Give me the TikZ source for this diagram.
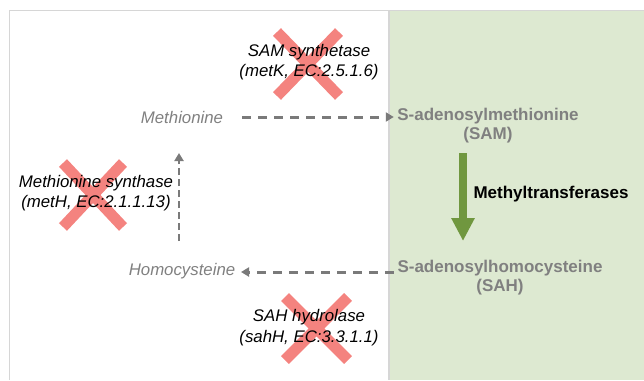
\documentclass[tikz,border=0pt]{standalone}
\usepackage{fontspec}
\setmainfont{Liberation Sans}
\usetikzlibrary{arrows.meta}
\definecolor{txtgray}{HTML}{808080}
\definecolor{lngray}{HTML}{7A7A7A}
\definecolor{framegray}{HTML}{D6D6D6}
\definecolor{greenbg}{HTML}{DDE9D1}
\definecolor{greenarrow}{HTML}{70973F}
\definecolor{crossred}{HTML}{F4837F}
\begin{document}
\begin{tikzpicture}[x=1pt,y=-1pt,
  enzyme/.style={font=\fontsize{16.8}{20.5}\selectfont\itshape, align=center, text=black},
  metab/.style={font=\fontsize{16.8}{20}\selectfont\itshape, text=txtgray},
  sam/.style={font=\fontsize{17}{19}\selectfont\bfseries, align=center, text=txtgray},
  flow/.style={draw=lngray, line width=3pt, dash pattern=on 9pt off 7pt, -{Triangle[length=8pt,width=9pt]}},
  vflow/.style={draw=lngray, line width=2.6pt, dash pattern=on 7pt off 4pt, -{Triangle[length=8pt,width=9pt]}},
  cross/.style={draw=crossred, line width=11pt}]
\useasboundingbox (0,0) rectangle (644,380);
\fill[greenbg] (389,11) rectangle (644,380);
\draw[framegray, line width=1.4pt] (9.7,380) -- (9.7,10.7) -- (644,10.7);
\draw[framegray, line width=1.2pt] (389,11) -- (389,380);
% crosses
\draw[cross] (277,32) -- (339,96) (339,32) -- (277,96);
\draw[cross] (63,163) -- (123,227) (123,163) -- (63,227);
\draw[cross] (285,297) -- (348,360) (348,297) -- (285,360);
% nodes
\node[enzyme] (samsyn) at (309,62) {SAM synthetase\\(metK, EC:2.5.1.6)};
\node[enzyme] (metsyn) at (96,193) {Methionine synthase\\(metH, EC:2.1.1.13)};
\node[enzyme] (sahhyd) at (309,327.5) {SAH hydrolase\\(sahH, EC:3.3.1.1)};
\node[metab] (met) at (182,117) {Methionine};
\node[metab] (hcy) at (182,271) {Homocysteine};
\node[sam] (sam) at (488,126) {S-adenosylmethionine\\(SAM)};
\node[sam] (sah) at (500,277.5) {S-adenosylhomocysteine\\(SAH)};
\node[font=\fontsize{17}{19}\selectfont\bfseries, anchor=west] (mt) at (470,194) {Methyltransferases};
\coordinate (upb) at (179,241);
\coordinate (upt) at (179,153);
\coordinate (gt) at (463,153);
\coordinate (gb) at (463,241);
% connectors
\draw[flow] (242,117) -- (sam.west |- 0,117);
\draw[flow] (sah.west |- 0,272) -- (241,272);
\draw[vflow] (upb) -- (upt);
\draw[greenarrow, line width=8pt, -{Triangle[length=23pt,width=22pt]}] (gt) -- (gb);
\end{tikzpicture}
\end{document}
